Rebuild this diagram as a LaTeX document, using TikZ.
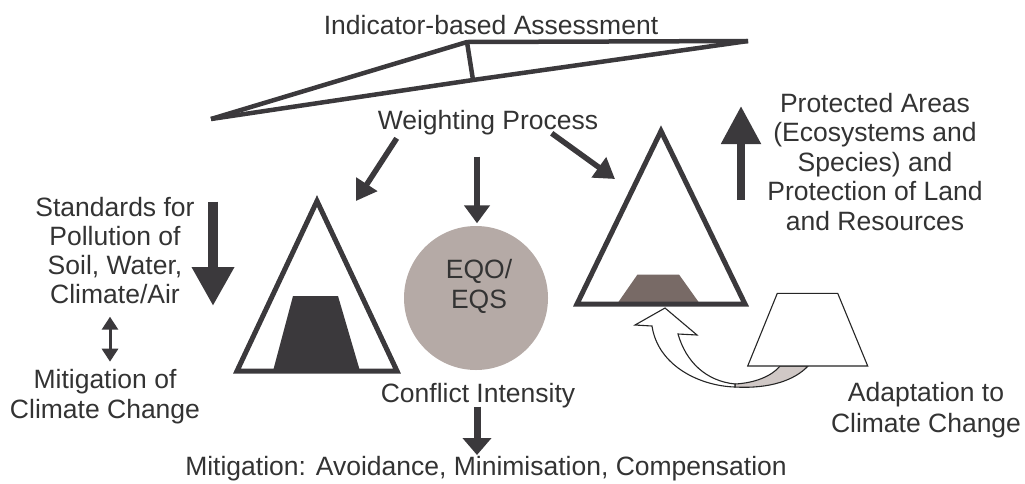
\documentclass[tikz,border=0pt]{standalone}
\usepackage{fontspec}
\setmainfont{Liberation Sans}
\usetikzlibrary{arrows.meta}
\definecolor{ink}{HTML}{3B393C}
\definecolor{txt}{HTML}{333333}
\definecolor{circfill}{HTML}{B5AAA6}
\definecolor{mudfill}{HTML}{786A66}
\definecolor{ribbonfill}{HTML}{D0C8C6}
\begin{document}
\begin{tikzpicture}[x=1pt,y=-1pt,
  lbl/.style={font=\fontsize{26.5}{29.5}\selectfont, text=txt, inner sep=0pt, align=center, anchor=base},
  beam/.style={draw=ink, line width=4.5pt},
  tri/.style={draw=ink, line width=5pt, line join=miter},
  wtarrow/.style={draw=ink, line width=5.5pt, -{Triangle[length=20pt,width=24pt]}},
  thin/.style={draw=black!85, line width=1.1pt, line join=miter}
]
\useasboundingbox (0,0) rectangle (1025,483);

% balance (weighting scale)
\coordinate (bl) at (211,119);
\coordinate (bt) at (467,42);
\coordinate (br) at (748,41);
\coordinate (bs) at (473,80);
\draw[beam] (bl) -- (bt) -- (br);
\draw[beam] (bl) -- (bs) -- (br);
\draw[beam] (bt) -- (bs);

% circle EQO/EQS
\node[circle, fill=circfill, minimum size=144pt, inner sep=0pt] (eq) at (476,298) {};
\node[lbl] (eqtext) at (479,308) {EQO/\\EQS};

% left triangle with dark trapezoid
\fill[ink] (293,296) -- (338,296) -- (360,371) -- (273,371) -- cycle;
\draw[tri] (317,201) -- (397,371) -- (237,371) -- cycle;

% right triangle with brown trapezoid
\fill[mudfill] (637.5,274.5) -- (679,274.5) -- (700,304) -- (617,304) -- cycle;
\draw[tri] (661,131) -- (745,304) -- (577,304) -- cycle;

% curved arrow (adaptation)
\fill[ribbonfill, thin] (735,384) .. controls (755,383) and (772,376) .. (780,366)
  -- (808,366) .. controls (795,380) and (770,389) .. (735,387) -- cycle;
\filldraw[fill=white, thin] (665,308) -- (697,335) -- (678,334)
  .. controls (686,362) and (706,381) .. (735,384) -- (735,387)
  .. controls (700,386) and (658,366) .. (652,326) -- (635,325) -- cycle;

% adaptation trapezoid
\filldraw[fill=white, thin] (777.3,293.3) -- (837.7,293.3) -- (867.7,366) -- (747.7,366) -- cycle;

% texts (multi-line nodes: base = baseline of last line)
\node[lbl] (ind) at (491,34) {Indicator-based Assessment};
\node[lbl] (wp) at (488,129) {Weighting Process};
\node[lbl, font=\fontsize{26.5}{28.7}\selectfont] (std) at (115,303) {Standards for\\Pollution of\\Soil, Water,\\Climate/Air};
\node[lbl] (mcc) at (105,418) {Mitigation of\\Climate Change};
\node[lbl] (prot) at (875,230) {Protected Areas\\(Ecosystems and\\Species) and\\Protection of Land\\and Resources};
\node[lbl, font=\fontsize{26.5}{31}\selectfont] (acc) at (926,432) {Adaptation to\\Climate Change};
\node[lbl] (ci) at (478,402) {Conflict Intensity};
\node[lbl] (mit) at (486,475) {Mitigation: Avoidance, Minimisation, Compensation};

% arrows from weighting process
\coordinate (wpl) at (396.7,138.3);
\coordinate (wpm) at (477,156.7);
\coordinate (wpr) at (551.7,133.3);
\coordinate (tl) at (356,201);
\coordinate (tm) at (477,223.3);
\coordinate (tr) at (615,179);
\draw[wtarrow] (wpl) -- (tl);
\draw[wtarrow, line width=6.5pt, -{Triangle[length=18pt,width=25pt]}] (wpm) -- (tm);
\draw[wtarrow] (wpr) -- (tr);

% standards arrow (down)
\coordinate (sa1) at (213,201.7);
\coordinate (sa2) at (213,306);
\draw[draw=ink, line width=10pt, -{Triangle[length=39pt,width=40pt]}] (sa1) -- (sa2);

% protected areas arrow (up)
\coordinate (pa1) at (741,200);
\coordinate (pa2) at (741,106);
\draw[draw=ink, line width=8.3pt, -{Triangle[length=38pt,width=38pt]}] (pa1) -- (pa2);

% double arrow
\coordinate (da1) at (110,316.7);
\coordinate (da2) at (110,361.7);
\draw[draw=ink, line width=3pt, {Triangle[length=13pt,width=16pt]}-{Triangle[length=13pt,width=16pt]}] (da1) -- (da2);

% conflict arrow
\coordinate (ca1) at (477,406.7);
\coordinate (ca2) at (477,455);
\draw[draw=ink, line width=7pt, -{Triangle[length=17pt,width=28pt]}] (ca1) -- (ca2);
\end{tikzpicture}
\end{document}
